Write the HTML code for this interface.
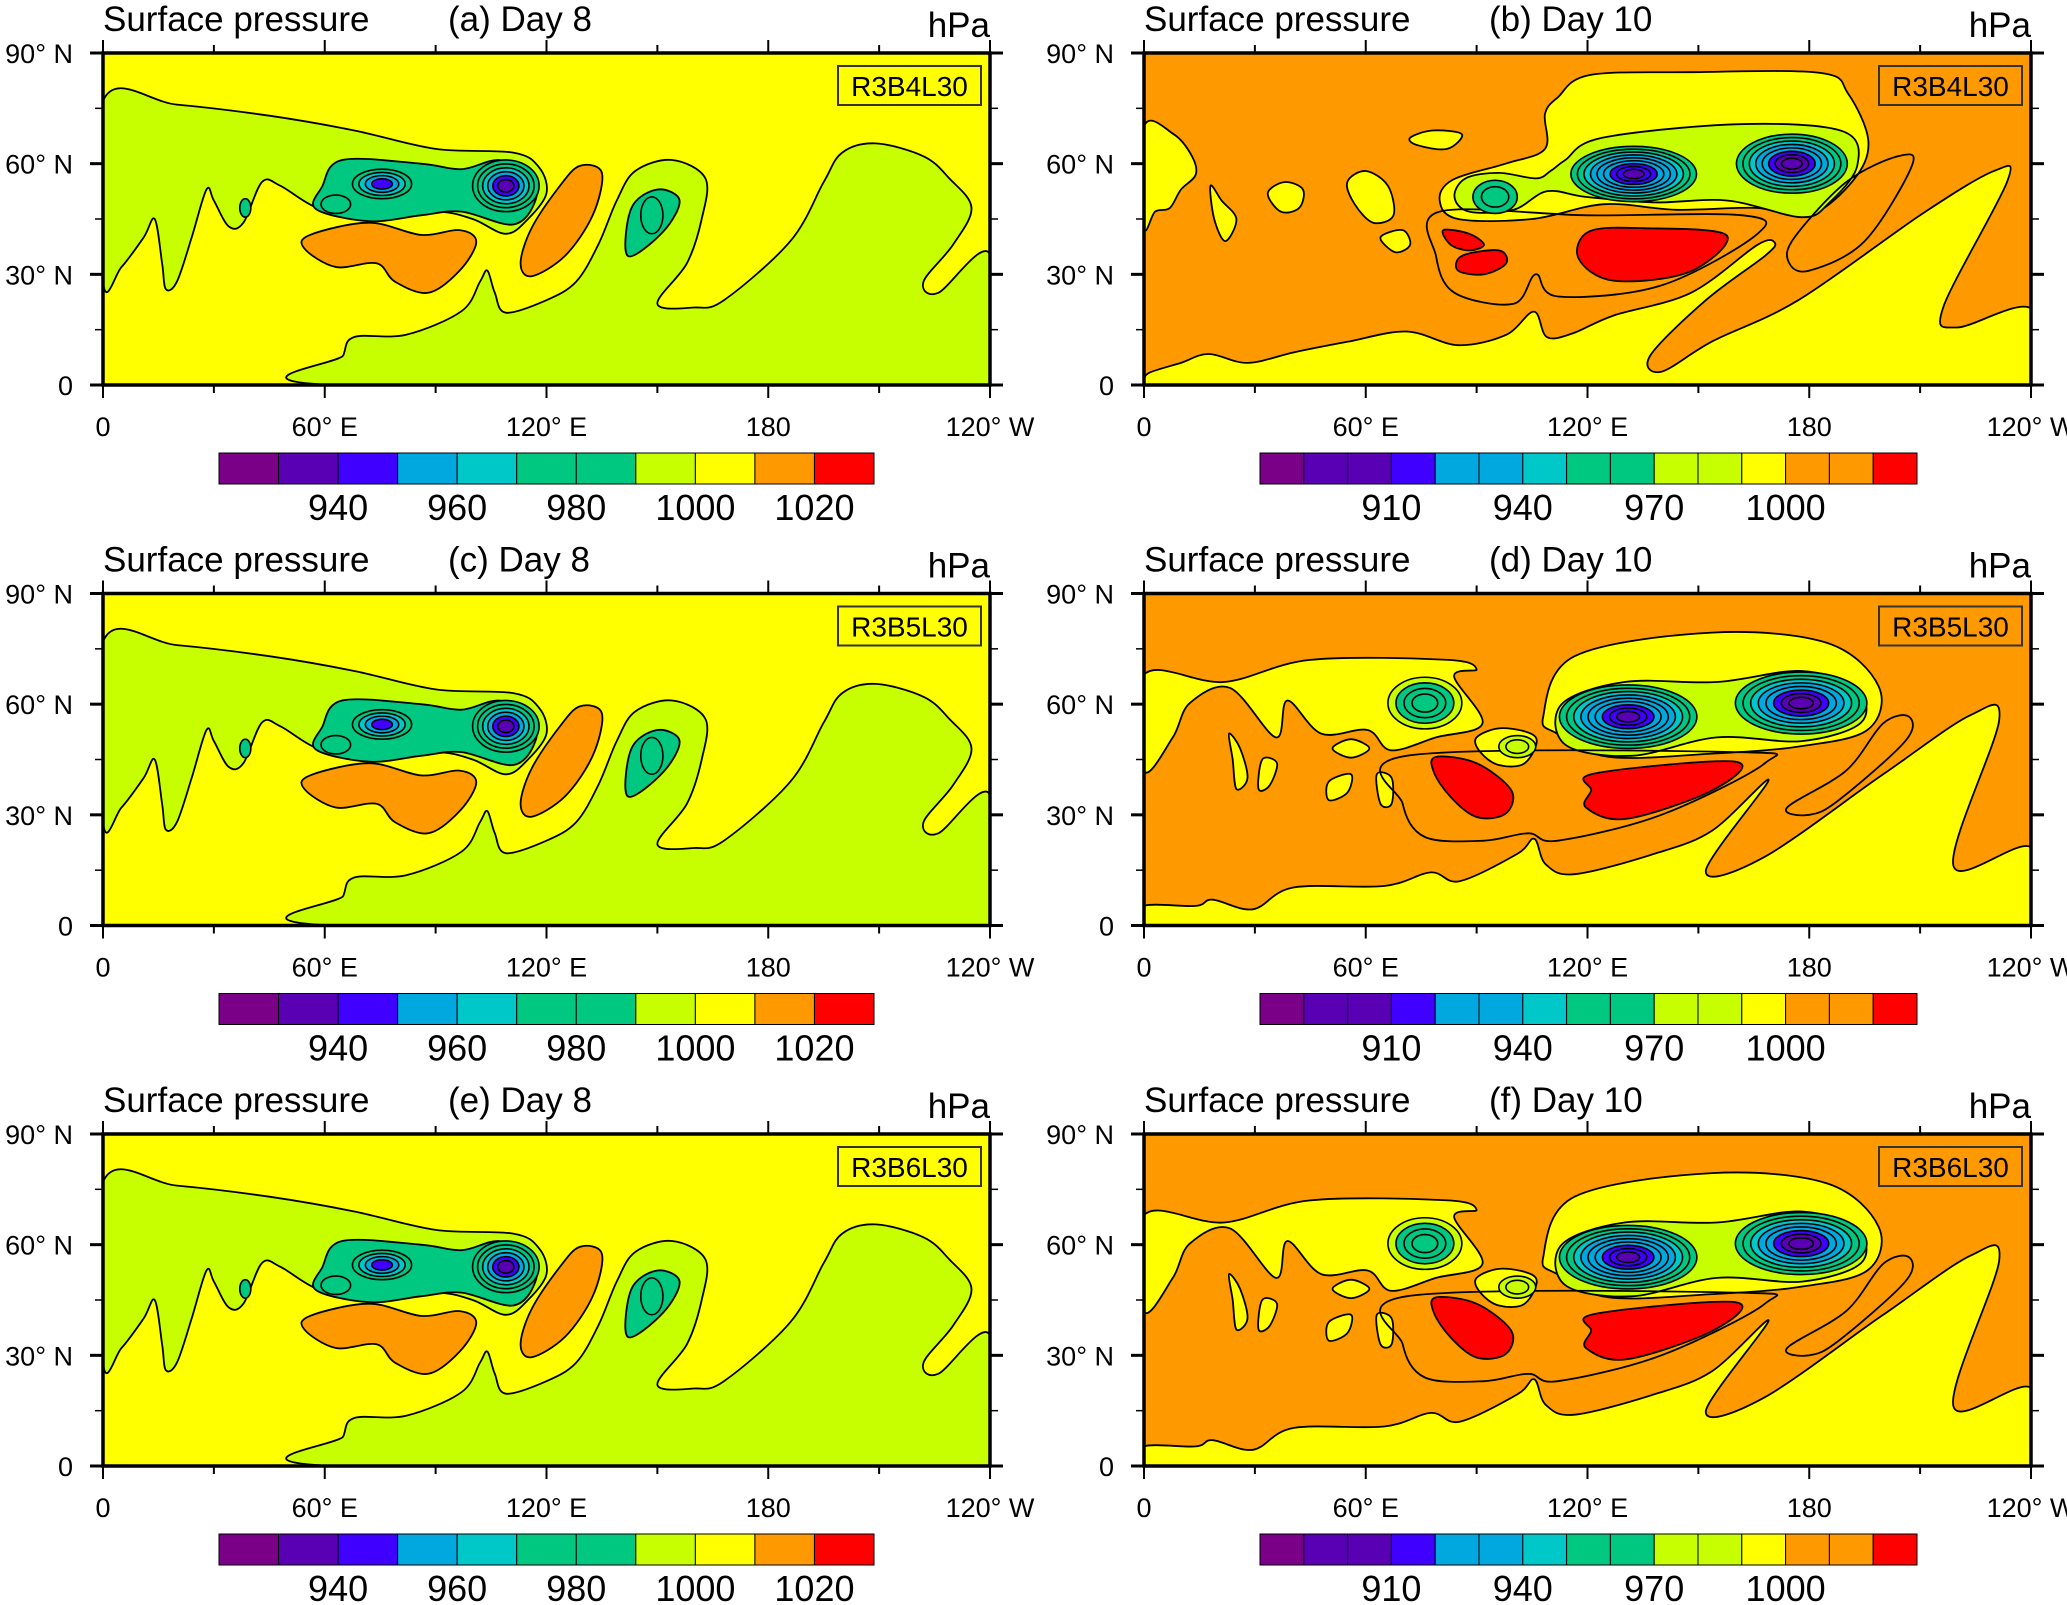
<!DOCTYPE html>
<html><head><meta charset="utf-8"><style>
html,body{margin:0;padding:0;background:#fff;}
svg{display:block;font-family:"Liberation Sans",Arial,sans-serif;}
</style></head><body>
<svg id="fig" width="2067" height="1605" viewBox="0 0 2067 1605" xmlns="http://www.w3.org/2000/svg"></svg>
<script>
// ---- data ----
const lonTicks = [0, 60, 120, 180, 240];
const lonTickLabels = ["0", "60\u00b0 E", "120\u00b0 E", "180", "120\u00b0 W"];
const latTicks = [0, 30, 60, 90];
const latTickLabels = ["0", "30\u00b0 N", "60\u00b0 N", "90\u00b0 N"];
const panelLetters = ["(a) Day 8", "(b) Day 10", "(c) Day 8", "(d) Day 10", "(e) Day 8", "(f) Day 10"];
const runNames = ["R3B4L30", "R3B4L30", "R3B5L30", "R3B5L30", "R3B6L30", "R3B6L30"];
const day8Colors = ["#7a0087","#5a00b4","#4000ff","#00a8e0","#00c8c8","#00c880","#00c880","#c8ff00","#ffff00","#ff9900","#ff0000"];
const day8Labels = ["940","960","980","1000","1020"];
const day8LabelEdges = [2,4,6,8,10];
const day10Colors = ["#7a0087","#5a00b4","#5a00b4","#4000ff","#00a8e0","#00a8e0","#00c8c8","#00c880","#00c880","#c8ff00","#c8ff00","#ffff00","#ff9900","#ff9900","#ff0000"];
const day10Labels = ["910","940","970","1000"];
const day10LabelEdges = [3,6,9,12];

// Day 8 fields (lon, lat)
const d8GreenNorth = [[0,77],[20,76],[45,73],[68,69],[90,64],[111,63],[118,59],[120,52],[115,45],[109,41],[100,45],[90,47],[70,46],[58,48],[48,54],[43,55],[38,44],[34,43],[30,50],[28,53],[24,40],[20,28],[17,26],[16,33],[14,45],[11,40],[5,32],[0,28]];
const d8GreenSouth = [[62,0],[65,8],[68,13],[82,13.6],[97,20],[102,28],[104,31],[106,25],[109,19.6],[120,23],[128,28],[134,38],[139,50],[144,58],[154,61],[163,56],[162,45],[158,33],[150,22],[160,21],[168,23],[186,39],[195,55],[200,63],[209,65.5],[222,62],[229,56],[235,48],[230,38],[222,28],[226,25],[240,35.5],[240,0]];
const d8OrangeA = [[56,40.7],[72,44],[86,40.7],[96.5,42],[101,38.8],[96.5,31],[88,25],[79,28],[74,33],[63,32],[54.5,37]];
const d8OrangeB = [[129,59.4],[135,57.5],[132.5,46],[125,35],[116,29.5],[113,33],[116,42.6],[123.5,53.8]];
const d8TealBand = [[64.7,61],[86,60],[97,58.5],[107,61],[116,57.5],[117,50],[111,43.5],[97,47],[86,46],[72,44.4],[57.6,47.7],[59.3,53.8]];
const d8TealWave = [[142,35],[143,48],[150,53],[156,50],[151.6,41.6]];
const d8Lows = [
  {lon:75.5, lat:54.5, rx:8, ry:4, colors:["#00c880","#00c8c8","#00a8e0","#4000ff"]},
  {lon:109, lat:54, rx:9, ry:7, colors:["#00c880","#00c880","#00c8c8","#00a8e0","#4000ff","#5a00b4"]},
  {lon:63, lat:49, rx:4, ry:2.5, colors:["#00c880"]},
  {lon:148.5, lat:46, rx:3, ry:5, colors:["#00c880"]},
  {lon:38.5, lat:48, rx:1.5, ry:2.5, colors:["#00c880"]}
];

// Day 10 fields (b)
const bYellowNorth = [[108.5,73.5],[112,78],[120.5,84],[147.7,84.8],[183,84.6],[190.5,79],[196,66],[192,55.6],[180,46],[165.6,48],[144,47.5],[124.5,49],[105,45],[85,45],[80,50],[83.5,55.6],[97.8,60],[108.5,64]];
const bLightGreen = [[114,61],[124,67],[161,70.7],[189,68.8],[193,59.5],[185.5,49.5],[178,45.5],[158,50],[138,49.5],[119.5,51],[109,52.5],[100,47.5],[88,47],[84,51],[87,56],[96,57.5],[106,56],[110,58]];
const bYellowSouth = [[0,0],[0,1],[1.4,3.3],[10,6],[17.5,8.4],[28,6],[40.7,8.9],[55,11.7],[71,14.5],[85,10.8],[98,13.6],[105.5,19.9],[109,13],[116,14],[127,18.8],[148,25],[166,38],[170.7,38.5],[168,35],[152,23],[137,8],[140,3.6],[153.9,11.9],[177.2,23.1],[210.7,46.5],[230.2,58.1],[233.5,55],[216.3,21.2],[220,15.6],[240,20.7],[240,0]];
const bRedBig = [[120.4,41.6],[135,42.5],[157.6,40.6],[147.4,30.6],[127,28.3],[117.6,34.3]];
const bRedSmall1 = [[81,42],[88,41],[92,38],[88,36.5],[83,38]];
const bRedSmall2 = [[86,35],[96,36.5],[98,33],[92,30],[85,31]];
const bYellowBlobs = [
  [[0,70],[8,68],[13,62],[14,57],[10,53],[7,48],[3,47],[0,43]],
  [[33.5,52],[38,55],[43,53],[42,48],[37,47]],
  [[55,55],[60,58],[66,54],[67.5,46],[62,44],[57,49]],
  [[64,40],[70,42],[72,38],[68,36]],
  [[72,67],[78,69],[86,68],[82,64],[74,65]],
  [[18,54],[21,50],[25,45],[22,39],[19,45]]
];
const bContourLines = [
  [[174.4,33.4],[180,31],[195,39],[207.8,59.5],[204,62],[190,55],[176,40]],
  [[80,47],[79,35],[84,25],[100,22],[106,30],[112,24],[140,27],[166,41],[162,46],[120,46]]
];
const bLows = [
  {lon:132.5, lat:57.2, rx:17, ry:7.5, colors:["#00c880","#00c880","#00c8c8","#00a8e0","#00a8e0","#00a8e0","#4000ff","#4000ff","#5a00b4"]},
  {lon:175.3, lat:60, rx:15, ry:8, colors:["#00c880","#00c880","#00c8c8","#00a8e0","#00a8e0","#4000ff","#5a00b4","#5a00b4"]},
  {lon:95, lat:51, rx:6, ry:4.5, colors:["#00c880","#00c880"]}
];

// Day 10 fields (d, f)
const dYellowNorth = [[108,56.6],[116.5,73],[153.7,79.4],[184.8,76.6],[198.8,64.8],[195.7,53],[177,48.5],[153.7,46.6],[125.8,45.7],[111.8,52]];
const dLightGreen = [[113,60],[130,66],[155,66],[178,69],[193,64],[194,55],[178,50],[155,51],[132,46],[114,49]];
const dYellowNW = [[0,68],[21.7,66],[45,72],[82.3,72],[90,69.4],[83.9,67.5],[91.6,54.8],[79,51],[66.8,47.5],[60.5,53],[48,52],[38.8,61],[35.7,51],[23.3,64.4],[12.4,60.3],[7.8,51],[0,42]];
const dYellowSouth = [[0,0],[0,5.3],[14,5.3],[18.6,7],[29.5,4.4],[40.4,10.3],[65,10.7],[77.6,14.4],[85.4,12],[101,19.4],[105.6,23.5],[108.7,16.6],[116.5,13.9],[138,19.4],[153.7,25.7],[169,39.4],[152,14.8],[167.7,18.5],[200,41],[223.6,57],[231.4,55.7],[219,16.2],[240,21.2],[240,0]];
const dRedA = [[79,45.7],[90,44],[99.4,36.6],[97.8,30.3],[90,29.4],[83,34.8],[78.4,41.6]];
const dRedB = [[121.9,41.2],[160,44.4],[153.7,36.6],[130.4,28.9],[119.6,32],[121,36.6]];
const dYellowBlobs = [
  [[23,52],[26,48],[28,40],[25,37],[24,45]],
  [[32,45],[36,44],[34,38],[31,37]],
  [[50,39],[56,41],[55,36],[50,34]],
  [[63,41],[67,40],[67,33],[64,33]],
  [[51,48],[56,50.5],[61,48],[56,45.5]],
  [[90,51],[97,53.5],[106,51],[103,44],[96,43.5],[91,47]]
];
const dContourLines = [
  [[174,32],[190,42],[200,54.8],[207,56.6],[206,50],[188,34],[180,30]],
  [[71,46],[70,33],[76,24],[92,23],[104,25],[112,23],[140,30],[168,44],[160,47]]
];
const dLows = [
  {lon:76, lat:60.3, rx:10, ry:7, colors:["#c8ff00","#00c880","#00c880","#00c880"]},
  {lon:101, lat:48.5, rx:5, ry:3, colors:["#c8ff00","#c8ff00"]},
  {lon:131, lat:56.6, rx:18.6, ry:8.6, colors:["#00c880","#00c880","#00c8c8","#00a8e0","#00a8e0","#00a8e0","#4000ff","#4000ff","#5a00b4"]},
  {lon:177.8, lat:60.3, rx:17.8, ry:8.4, colors:["#00c880","#00c880","#00c8c8","#00a8e0","#00a8e0","#4000ff","#5a00b4","#5a00b4"]}
];

// ---- drawing ----
const NS = "http://www.w3.org/2000/svg";
const svg = document.getElementById("fig");
const PW = 887, PH = 332;
const colX = [103, 1144];
const rowY = [53, 593.5, 1134];

function mk(tag, attrs, parent) {
  const e = document.createElementNS(NS, tag);
  for (const k in attrs) e.setAttribute(k, attrs[k]);
  (parent || svg).appendChild(e);
  return e;
}
function smoothPath(pts, sx, sy, closed) {
  const P = pts.map(p => [sx(p[0]), sy(p[1])]);
  const n = P.length;
  let d = "M" + P[0][0].toFixed(1) + "," + P[0][1].toFixed(1);
  const last = closed ? n : n - 1;
  for (let i = 0; i < last; i++) {
    const p0 = P[(i - 1 + n) % n], p1 = P[i], p2 = P[(i + 1) % n], p3 = P[(i + 2) % n];
    const q0 = (!closed && i === 0) ? p1 : p0;
    const q3 = (!closed && i === n - 2) ? p2 : p3;
    const c1 = [p1[0] + (p2[0] - q0[0]) / 6, p1[1] + (p2[1] - q0[1]) / 6];
    const c2 = [p2[0] - (q3[0] - p1[0]) / 6, p2[1] - (q3[1] - p1[1]) / 6];
    d += "C" + c1[0].toFixed(1) + "," + c1[1].toFixed(1) + " " + c2[0].toFixed(1) + "," + c2[1].toFixed(1) + " " + p2[0].toFixed(1) + "," + p2[1].toFixed(1);
  }
  return d + (closed ? "Z" : "");
}

function drawPanel(idx, day) {
  const col = idx % 2, row = Math.floor(idx / 2);
  const x0 = colX[col], y0 = rowY[row];
  const sx = lon => x0 + lon / 240 * PW;
  const sy = lat => y0 + PH - lat / 90 * PH;
  const g = mk("g", {});
  
  
  const clipId = "clip" + idx;
  const cp = mk("clipPath", {id: clipId}, g);
  mk("rect", {x: x0, y: y0, width: PW, height: PH}, cp);
  const map = mk("g", {"clip-path": "url(#" + clipId + ")"}, g);
  
  
  const bg = day === 8 ? "#ffff00" : "#ff9900";
  mk("rect", {x: x0, y: y0, width: PW, height: PH, fill: bg}, map);
  const region = (pts, fill, name) => {
    const p = mk("path", {d: smoothPath(pts, sx, sy, true), fill: fill, stroke: "#000", "stroke-width": 1.8}, map);
    
    
  };
  const line = (pts, closed, name) => {
    const p = mk("path", {d: smoothPath(pts, sx, sy, closed), fill: "none", stroke: "#000", "stroke-width": 1.8}, map);
    
    
  };
  const lows = (list) => {
    list.forEach((L, li) => {
      const n = L.colors.length;
      L.colors.forEach((c, k) => {
        const f = 1 - k / (n + 0.6);
        const e = mk("ellipse", {cx: sx(L.lon), cy: sy(L.lat), rx: L.rx * f / 240 * PW, ry: L.ry * f / 90 * PH, fill: c, stroke: "#000", "stroke-width": 1.6}, map);
        
        
      });
    });
  };
  if (day === 8) {
    region(d8GreenNorth, "#c8ff00", "low-region-north");
    region(d8GreenSouth, "#c8ff00", "low-region-south");
    region(d8OrangeA, "#ff9900", "high-region-west");
    region(d8OrangeB, "#ff9900", "high-region-east");
    region(d8TealBand, "#00c880", "cyclone-band");
    region(d8TealWave, "#00c880", "wave-low");
    lows(d8Lows);
  } else if (idx === 1) {
    region(bYellowNorth, "#ffff00", "yellow-north-region");
    region(bLightGreen, "#c8ff00", "cyclone-envelope");
    region(bYellowSouth, "#ffff00", "yellow-south-region");
    bYellowBlobs.forEach(b => region(b, "#ffff00", "yellow-blob"));
    region(bRedBig, "#ff0000", "high-core-east");
    region(bRedSmall1, "#ff0000", "high-core-small");
    region(bRedSmall2, "#ff0000", "high-core-small");
    bContourLines.forEach(l => line(l, true, "contour-line"));
    lows(bLows);
  } else {
    region(dYellowNorth, "#ffff00", "yellow-north-region");
    region(dLightGreen, "#c8ff00", "cyclone-envelope");
    region(dYellowNW, "#ffff00", "yellow-northwest-region");
    region(dYellowSouth, "#ffff00", "yellow-south-region");
    dYellowBlobs.forEach(b => region(b, "#ffff00", "yellow-blob"));
    region(dRedA, "#ff0000", "high-core-west");
    region(dRedB, "#ff0000", "high-core-east");
    dContourLines.forEach(l => line(l, true, "contour-line"));
    lows(dLows);
  }
  const fr = mk("rect", {x: x0, y: y0, width: PW, height: PH, fill: "none", stroke: "#000", "stroke-width": 3.5}, g);
  
  
  for (let lon = 0; lon <= 240; lon += 30) {
    const major = lon % 60 === 0, L = major ? 13 : 8;
    mk("line", {x1: sx(lon), x2: sx(lon), y1: y0, y2: y0 - L, stroke: "#000", "stroke-width": 2}, g);
    mk("line", {x1: sx(lon), x2: sx(lon), y1: y0 + PH, y2: y0 + PH + L, stroke: "#000", "stroke-width": 2}, g);
  }
  for (let lat = 0; lat <= 90; lat += 15) {
    const major = lat % 30 === 0, L = major ? 13 : 8;
    mk("line", {x1: x0, x2: x0 - L, y1: sy(lat), y2: sy(lat), stroke: "#000", "stroke-width": major ? 3 : 1.5}, g);
    mk("line", {x1: x0 + PW, x2: x0 + PW + L, y1: sy(lat), y2: sy(lat), stroke: "#000", "stroke-width": major ? 3 : 1.5}, g);
  }
  lonTicks.forEach((v, i) => {
    const t = mk("text", {x: sx(v), y: y0 + PH + 51, "font-size": 27, "text-anchor": "middle"}, g);
    t.textContent = lonTickLabels[i];
    
    
  });
  latTicks.forEach((v, i) => {
    const t = mk("text", {x: x0 - 30, y: sy(v) + 10, "font-size": 27, "text-anchor": "end"}, g);
    t.textContent = latTickLabels[i];
    
    
  });
  const t1 = mk("text", {x: x0, y: y0 - 22, "font-size": 35}, g);
  t1.textContent = "Surface pressure";
  
  
  const t2 = mk("text", {x: x0 + 345, y: y0 - 22, "font-size": 35}, g);
  t2.textContent = panelLetters[idx];
  
  
  const t3 = mk("text", {x: x0 + PW, y: y0 - 16, "font-size": 35, "text-anchor": "end"}, g);
  t3.textContent = "hPa";
  
  
  const bx = mk("rect", {x: x0 + PW - 152, y: y0 + 13, width: 143, height: 39, fill: bg, stroke: "#333", "stroke-width": 2}, g);
  
  
  const bt = mk("text", {x: x0 + PW - 80.5, y: y0 + 43, "font-size": 28, "text-anchor": "middle"}, g);
  bt.textContent = runNames[idx];
  
  
  const colors = day === 8 ? day8Colors : day10Colors;
  const labels = day === 8 ? day8Labels : day10Labels;
  const edges = day === 8 ? day8LabelEdges : day10LabelEdges;
  const cbX = col === 0 ? 219 : 1260, cbW = col === 0 ? 655 : 657;
  const cbY = y0 + 400, cbH = 31;
  const bw = cbW / colors.length;
  const cb = mk("g", {}, g);
  
  
  colors.forEach((c, i) => {
    const r = mk("rect", {x: cbX + i * bw, y: cbY, width: bw, height: cbH, fill: c, stroke: "#000", "stroke-width": 1}, cb);
    
    
  });
  labels.forEach((s, i) => {
    const t = mk("text", {x: cbX + edges[i] * bw, y: cbY + 67, "font-size": 36, "text-anchor": "middle"}, cb);
    t.textContent = s;
    
    
  });
}
for (let i = 0; i < 6; i++) drawPanel(i, i % 2 === 0 ? 8 : 10);
</script>
</body></html>
